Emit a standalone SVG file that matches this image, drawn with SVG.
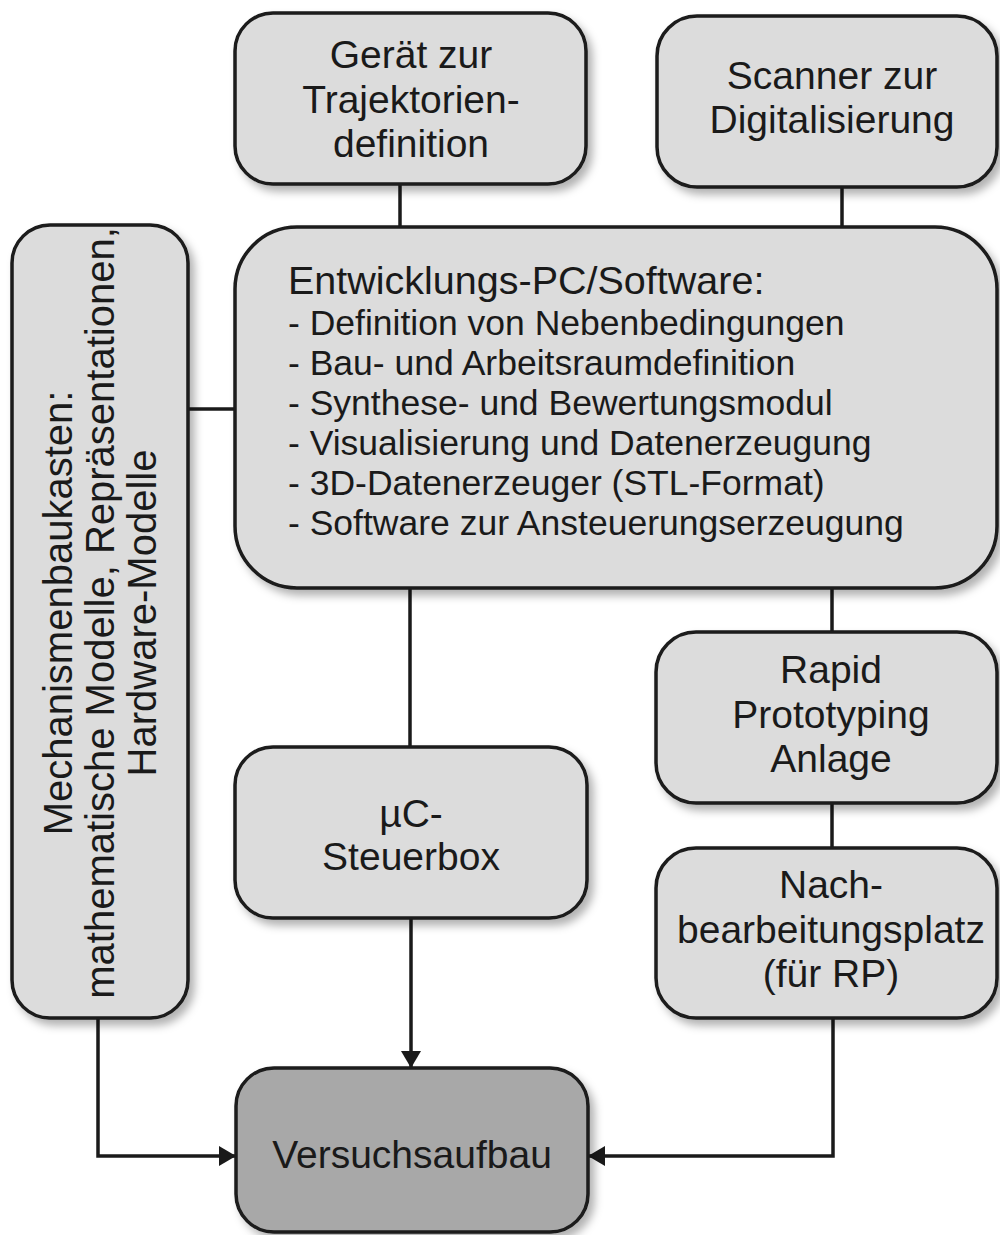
<svg xmlns="http://www.w3.org/2000/svg" width="1000" height="1235" viewBox="0 0 1000 1235">
<defs>
<filter id="sh" x="-10%" y="-10%" width="130%" height="130%">
<feDropShadow dx="5" dy="6" stdDeviation="4" flood-color="#000" flood-opacity="0.3"/>
</filter>
<marker id="ah" viewBox="0 0 17 20" refX="17" refY="10" markerWidth="17" markerHeight="20" markerUnits="userSpaceOnUse" orient="auto">
<path d="M0,0 L17,10 L0,20 Z" fill="#1a1a1a"/>
</marker>
<style>
.box{fill:#dcdcdc;stroke:#1a1a1a;stroke-width:3.5;filter:url(#sh)}
.dark{fill:#a8a8a8}
.t{font-family:"Liberation Sans",Arial,Helvetica,sans-serif;font-size:39px;fill:#1a1a1a;text-anchor:middle}
.l{font-family:"Liberation Sans",Arial,Helvetica,sans-serif;font-size:35.5px;fill:#1a1a1a}
.c{fill:none;stroke:#1a1a1a;stroke-width:3.5}
</style>
</defs>
<rect width="1000" height="1235" fill="#ffffff"/>
<g id="connectors">
<line class="c" x1="400" y1="184" x2="400" y2="227"/>
<line class="c" x1="842" y1="187" x2="842" y2="227"/>
<line class="c" x1="188" y1="409" x2="235" y2="409"/>
<line class="c" x1="410" y1="588" x2="410" y2="747"/>
<line class="c" x1="832" y1="588" x2="832" y2="632"/>
<line class="c" x1="832" y1="803" x2="832" y2="848"/>
<line class="c" x1="411" y1="918" x2="411" y2="1068" marker-end="url(#ah)"/>
<polyline class="c" points="98,1018 98,1156 236,1156" marker-end="url(#ah)"/>
<polyline class="c" points="833,1018 833,1156 588,1156" marker-end="url(#ah)"/>
</g>
<g id="n1">
<rect class="box" x="235" y="13" width="351" height="171" rx="38"/>
<text class="t" x="411" y="68">Gerät zur</text>
<text class="t" x="411" y="112.5">Trajektorien-</text>
<text class="t" x="411" y="157">definition</text>
</g>
<g id="n2">
<rect class="box" x="657" y="16" width="340" height="171" rx="40"/>
<text class="t" x="832" y="89">Scanner zur</text>
<text class="t" x="832" y="133">Digitalisierung</text>
</g>
<g id="n3">
<rect class="box" x="235" y="227" width="762" height="361" rx="62"/>
<text class="l" x="288" y="294" style="font-size:39.5px">Entwicklungs-PC/Software:</text>
<text class="l" x="288" y="335">- Definition von Nebenbedingungen</text>
<text class="l" x="288" y="375">- Bau- und Arbeitsraumdefinition</text>
<text class="l" x="288" y="415">- Synthese- und Bewertungsmodul</text>
<text class="l" x="288" y="455">- Visualisierung und Datenerzeugung</text>
<text class="l" x="288" y="495">- 3D-Datenerzeuger (STL-Format)</text>
<text class="l" x="288" y="535">- Software zur Ansteuerungserzeugung</text>
</g>
<g id="n4">
<rect class="box" x="12" y="225" width="176" height="793" rx="38"/>
<g transform="translate(0,613) rotate(-90)">
<text class="t" x="0" y="72" style="font-size:40px">Mechanismenbaukasten:</text>
<text class="t" x="0" y="114" style="font-size:40px">mathematische Modelle, Repräsentationen,</text>
<text class="t" x="0" y="156" style="font-size:40px">Hardware-Modelle</text>
</g>
</g>
<g id="n5">
<rect class="box" x="235" y="747" width="352" height="171" rx="38"/>
<text class="t" x="411" y="827">µC-</text>
<text class="t" x="411" y="870">Steuerbox</text>
</g>
<g id="n6">
<rect class="box" x="656" y="632" width="341" height="171" rx="40"/>
<text class="t" x="831" y="683">Rapid</text>
<text class="t" x="831" y="728">Prototyping</text>
<text class="t" x="831" y="772">Anlage</text>
</g>
<g id="n7">
<rect class="box" x="656" y="848" width="341" height="170" rx="40"/>
<text class="t" x="831" y="898">Nach-</text>
<text class="t" x="831" y="943">bearbeitungsplatz</text>
<text class="t" x="831" y="987">(für RP)</text>
</g>
<g id="n8">
<rect class="box dark" x="236" y="1068" width="352" height="164" rx="38"/>
<text class="t" x="412" y="1168">Versuchsaufbau</text>
</g>
</svg>
